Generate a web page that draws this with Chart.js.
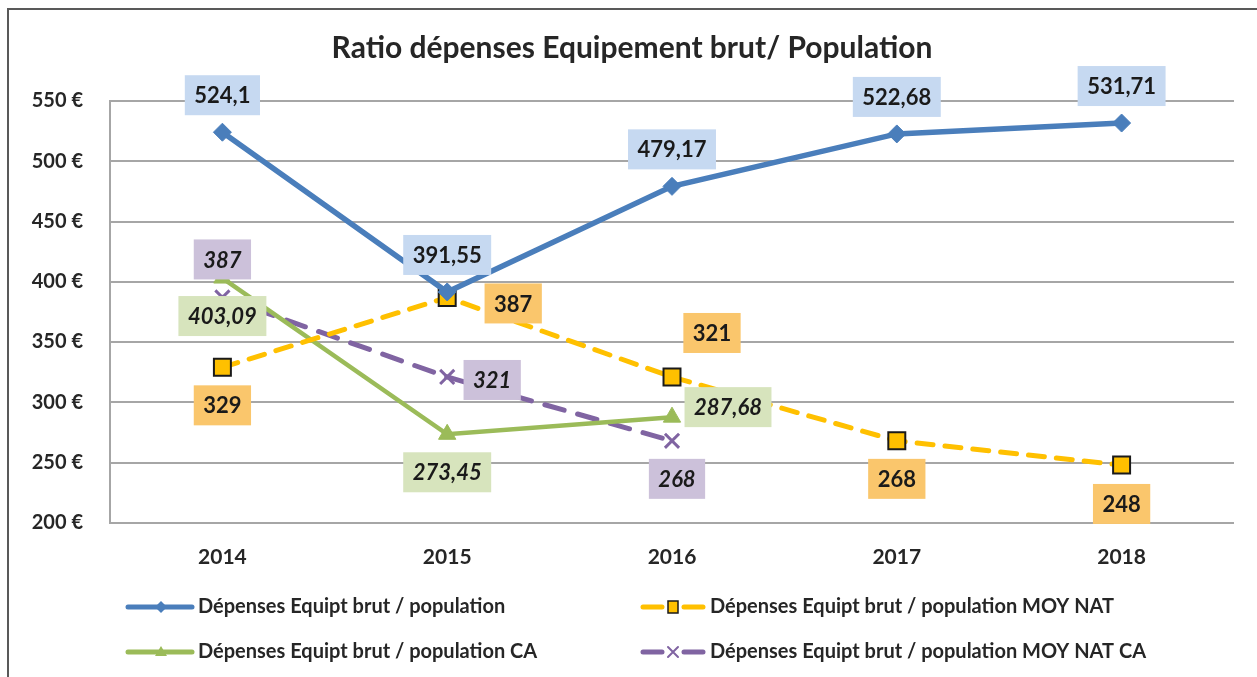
<!DOCTYPE html>
<html>
<head>
<meta charset="utf-8">
<script src="https://cdn.jsdelivr.net/npm/chart.js@4/dist/chart.umd.min.js"></script>
<style>
  html, body { margin: 0; padding: 0; background: #fff; }
  canvas { display: block; }
</style>
</head>
<body>
<canvas id="ratioChart" width="1257" height="677"></canvas>
<script>
// data
const years = ['2014', '2015', '2016', '2017', '2018'];
const equiptBrut = [524.1, 391.55, 479.17, 522.68, 531.71];
const moyNat = [329, 387, 321, 268, 248];
const equiptCA = [403.09, 273.45, 287.68, null, null];
const moyNatCA = [387, 321, 268, null, null];
const seriesNames = [
    'Dépenses Equipt brut / population',
    'Dépenses Equipt brut / population MOY NAT',
    'Dépenses Equipt brut / population CA',
    'Dépenses Equipt brut / population MOY NAT CA'
];

const FONT = 'Lato, "Open Sans", sans-serif';
const TEXT = '#262626';

// label box offsets (centre of box relative to the point)
const labelOffsets = [
    [[0, -37], [0, -37], [0, -37], [0, -37], [0, -37]],
    [[0, 38], [66, 6], [40, -44], [0, 38], [0, 39]],
    [[0, 38], [0, 38], [56, -10]],
    [[0, -38], [45, 3], [5, 38]]
];
const labelBg = ['#c6d9f1', '#fac66c', '#d7e4bd', '#ccc1da'];
const labelItalic = [false, false, true, true];

const fmt = v => String(v).replace('.', ',');

// frame round the whole chart (right and bottom edges fall outside the view)
const framePlugin = {
    id: 'frame',
    beforeDraw(chart) {
        const ctx = chart.ctx;
        ctx.save();
        ctx.strokeStyle = '#595959';
        ctx.lineWidth = 2;
        ctx.strokeRect(8, 9, 1300, 700);
        ctx.restore();
    }
};

// value labels with coloured boxes
const boxLabels = {
    id: 'boxLabels',
    afterDatasetsDraw(chart) {
        const ctx = chart.ctx;
        ctx.save();
        chart.data.datasets.forEach((ds, di) => {
            const meta = chart.getDatasetMeta(di);
            ctx.font = (labelItalic[di] ? 'italic ' : '') + 'bold 22px ' + FONT;
            ctx.textAlign = 'center';
            ctx.textBaseline = 'middle';
            meta.data.forEach((pt, i) => {
                const v = ds.data[i];
                if (v === null || v === undefined) return;
                const off = labelOffsets[di][i];
                const cx = pt.x + off[0], cy = pt.y + off[1];
                const txt = fmt(v);
                const w = ctx.measureText(txt).width + 19;
                const h = 40;
                ctx.fillStyle = labelBg[di];
                ctx.fillRect(cx - w / 2, cy - h / 2, w, h);
                ctx.fillStyle = '#1a1a1a';
                ctx.fillText(txt, cx, cy + 1);
            });
        });
        ctx.restore();
    }
};

function legendMarker(ctx, ds, x, y) {
    ctx.save();
    ctx.fillStyle = ds.pointBackgroundColor;
    ctx.strokeStyle = ds.pointBorderColor;
    ctx.lineWidth = 1.5;
    ctx.beginPath();
    if (ds.pointStyle === 'rectRot') {
        ctx.moveTo(x, y - 6); ctx.lineTo(x + 6, y); ctx.lineTo(x, y + 6); ctx.lineTo(x - 6, y); ctx.closePath();
        ctx.fill();
    } else if (ds.pointStyle === 'rect') {
        ctx.rect(x - 5, y - 6, 10, 12);
        ctx.fill(); ctx.stroke();
    } else if (ds.pointStyle === 'triangle') {
        ctx.moveTo(x, y - 6); ctx.lineTo(x + 6, y + 4); ctx.lineTo(x - 6, y + 4); ctx.closePath();
        ctx.fill();
    } else {
        ctx.lineWidth = 2;
        ctx.moveTo(x - 5, y - 5); ctx.lineTo(x + 5, y + 5);
        ctx.moveTo(x + 5, y - 5); ctx.lineTo(x - 5, y + 5);
        ctx.stroke();
    }
    ctx.restore();
}

// two-column legend under the axis
const gridLegend = {
    id: 'gridLegend',
    afterDraw(chart) {
        const ctx = chart.ctx;
        const colX = [128, 640];
        const rowY = [607, 652];
        ctx.save();
        chart.data.datasets.forEach((ds, i) => {
            const x = colX[i % 2], y = rowY[Math.floor(i / 2)];
            const mid = x + 33;
            ctx.strokeStyle = ds.borderColor;
            ctx.lineWidth = 5;
            ctx.lineCap = 'round';
            ctx.beginPath();
            if (ds.borderDash && ds.borderDash.length) {
                ctx.moveTo(x + 3, y); ctx.lineTo(mid - 11, y);
                ctx.moveTo(mid + 11, y); ctx.lineTo(x + 63, y);
            } else {
                ctx.moveTo(x, y); ctx.lineTo(x + 64, y);
            }
            ctx.stroke();
            legendMarker(ctx, ds, mid, y);
            ctx.fillStyle = TEXT;
            ctx.font = 'bold 20px ' + FONT;
            ctx.textAlign = 'left';
            ctx.textBaseline = 'middle';
            ctx.fillText(seriesNames[i], x + 70, y);
        });
        ctx.restore();
    }
};

const ctx = document.getElementById('ratioChart').getContext('2d');

new Chart(ctx, {
    type: 'line',
    data: {
        labels: years,
        datasets: [
            {
                label: seriesNames[0],
                data: equiptBrut,
                borderColor: '#4a7ebb',
                borderWidth: 5.5,
                pointStyle: 'rectRot',
                pointRadius: 9,
                pointBackgroundColor: '#4a7ebb',
                pointBorderColor: '#4a7ebb',
                pointBorderWidth: 1
            },
            {
                label: seriesNames[1],
                data: moyNat,
                borderColor: '#ffc000',
                borderWidth: 5,
                borderDash: [16, 12],
                borderCapStyle: 'round',
                pointStyle: 'rect',
                pointRadius: 12,
                pointBackgroundColor: '#ffc000',
                pointBorderColor: '#1a1a1a',
                pointBorderWidth: 2
            },
            {
                label: seriesNames[2],
                data: equiptCA,
                borderColor: '#9bbb59',
                borderWidth: 4.5,
                pointStyle: 'triangle',
                pointRadius: 10,
                pointBackgroundColor: '#9bbb59',
                pointBorderColor: '#9bbb59',
                pointBorderWidth: 1
            },
            {
                label: seriesNames[3],
                data: moyNatCA,
                borderColor: '#8064a2',
                borderWidth: 5,
                borderDash: [20, 14],
                borderCapStyle: 'round',
                pointStyle: 'crossRot',
                pointRadius: 10,
                pointBackgroundColor: '#8064a2',
                pointBorderColor: '#8064a2',
                pointBorderWidth: 3
            }
        ]
    },
    options: {
        responsive: false,
        animation: false,
        layout: {
            padding: { top: 0, left: 30, right: 23, bottom: 93 }
        },
        plugins: {
            legend: { display: false },
            tooltip: { enabled: false },
            title: {
                display: true,
                text: 'Ratio dépenses Equipement brut/ Population',
                color: TEXT,
                font: { family: FONT, size: 30, weight: 'bold' },
                padding: { top: 30, bottom: 35 }
            }
        },
        scales: {
            x: {
                offset: true,
                grid: { display: false },
                border: { display: false },
                ticks: {
                    color: TEXT,
                    padding: 14,
                    font: { family: FONT, size: 21, weight: 'bold' }
                }
            },
            y: {
                min: 200,
                max: 550,
                afterFit(scale) { scale.width = 80; },
                grid: { color: '#a6a6a6', lineWidth: 2, drawTicks: false },
                border: { display: true, color: '#a6a6a6', width: 2 },
                ticks: {
                    stepSize: 50,
                    color: TEXT,
                    padding: 27,
                    font: { family: FONT, size: 20, weight: 'bold' },
                    callback: v => v + ' €'
                }
            }
        }
    },
    plugins: [framePlugin, boxLabels, gridLegend]
});
</script>
</body>
</html>
